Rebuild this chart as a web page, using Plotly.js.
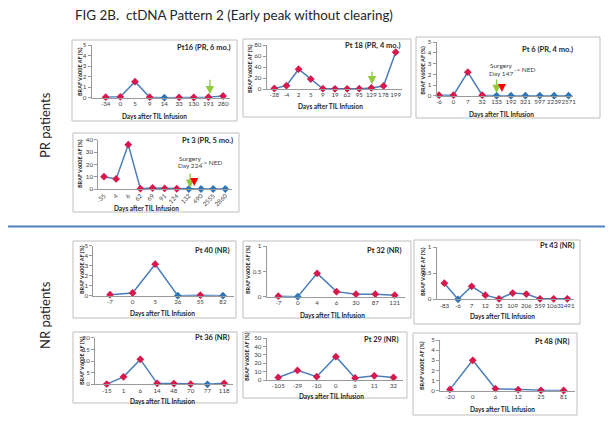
<!DOCTYPE html>
<html>
<head>
<meta charset="utf-8">
<script src="https://cdn.plot.ly/plotly-3.0.1.min.js"></script>
<style>html,body{margin:0;padding:0;background:#fff;}#chart{width:612px;height:424px;}</style>
</head>
<body>
<div id="chart"></div>
<script>
// ---- data ----
const pt16Days = ['-34','0','5','9','14','33','130','191','280'];
const pt16AF   = [0.05,0.08,1.52,0.05,0,0.03,0.02,0.05,0.16];

const pt18Days = ['-28','-4','2','5','9','19','62','95','129','178','199'];
const pt18AF   = [1,6,36,18,0.5,0.3,0.3,0.5,2,5.5,67];

const pt6Days  = ['-6','0','7','32','133','192','321','597','2239','2571'];
const pt6AF    = [0.05,0.05,2.2,0.05,0,0,0,0,0,0];

const pt3Days  = ['-35','4','6','62','69','91','124','132','490','2555','2860'];
const pt3AF    = [10,8.2,36,0.3,0.8,0.5,0.2,0,0,0,0];

const pt40Days = ['-7','0','5','26','55','82'];
const pt40AF   = [0.1,0.27,3.15,0,0.05,0];

const pt32Days = ['-7','0','4','6','30','87','121'];
const pt32AF   = [0.01,0,0.46,0.1,0.05,0.05,0.03];

const pt43Days = ['-83','-6','7','12','33','109','206','359','1063','1491'];
const pt43AF   = [0.31,0,0.25,0.08,0.01,0.12,0.1,0.01,0.01,0.01];

const pt36Days = ['-15','1','6','14','48','70','77','118'];
const pt36AF   = [0.1,3.2,10.7,0.4,0.3,0.1,0,0.4];

const pt29Days = ['-105','-29','-10','0','6','11','32'];
const pt29AF   = [3,11.5,4,28,2.4,5,3];

const pt48Days = ['-20','0','6','12','25','81'];
const pt48AF   = [0.13,3.0,0.2,0.1,0.04,0.02];

const panelTitles = ['Pt16 (PR, 6 mo.)','Pt 18 (PR, 4 mo.)','Pt 6 (PR, 4 mo.)','Pt 3 (PR, 5 mo.)',
  'Pt 40 (NR)','Pt 32 (NR)','Pt 43 (NR)','Pt 36 (NR)','Pt 29 (NR)','Pt 48 (NR)'];
const yTitle = 'BRAF V600E AF (%)';
const xTitle = 'Days after TIL Infusion';

// ---- layout geometry (pixels) ----
const W = 612, H = 424;
const panels = [
 {d:pt16Days,v:pt16AF,box:[72,40,237,121],plot:[91.7,45,230,97.7],xr:[-0.95,8.47],yr:[0,5],dt:1,tt:[233,48],xt:[154,116],yl:[80,72]},
 {d:pt18Days,v:pt18AF,box:[243,39,411,117],plot:[266.7,45,401.7,89],xr:[-0.63,10.5],yr:[0,80],dt:20,tt:[402,45.7],xt:[330,106.7],yl:[250,69]},
 {d:pt6Days,v:pt6AF,box:[416,37,600,118],plot:[436.7,42.3,573.3,95.7],xr:[-0.16,9.33],yr:[0,5],dt:1,tt:[575,49],xt:[501,114.3],yl:[422.7,70]},
 {d:pt3Days,v:pt3AF,box:[73,133,239,212],plot:[98.3,139.7,231.7,189],xr:[-0.47,10.53],yr:[0,40],dt:10,tt:[235,141],xt:[146,208],yl:[80,164],rot:true},
 {d:pt40Days,v:pt40AF,box:[73,241,236,318],plot:[93.3,245.7,234,295.7],xr:[-0.74,5.49],yr:[0,5],dt:1,tt:[232,250],xt:[162,313.3],yl:[82,270]},
 {d:pt32Days,v:pt32AF,box:[243,241,411,318],plot:[266.7,246,405,296.7],xr:[-0.6,6.53],yr:[0,1],dt:0.5,tt:[404,250],xt:[332,315],yl:[248,270]},
 {d:pt43Days,v:pt43AF,box:[414,240,580,324],plot:[436.7,247.3,574,299.3],xr:[-0.56,9.49],yr:[0,1],dt:0.5,tt:[577,245.7],xt:[502,316.7],yl:[423,272]},
 {d:pt36Days,v:pt36AF,box:[73,332,237,403],plot:[95,337.7,233.3,384.3],xr:[-0.7,7.54],yr:[0,20],dt:5,tt:[232,337.7],xt:[162,401],yl:[82,361]},
 {d:pt29Days,v:pt29AF,box:[243,332,407,398],plot:[266.7,338.3,403.3,380],xr:[-0.6,6.51],yr:[0,50],dt:10,tt:[401,339],xt:[331,396],yl:[247,357]},
 {d:pt48Days,v:pt48AF,box:[413,333,577,415],plot:[440,340,575,390.7],xr:[-0.44,5.5],yr:[0,5],dt:1,tt:[572,341.7],xt:[502,409],yl:[422,366]}
];

const FONT = 'Lato, "Open Sans", sans-serif';
const TXT = '#404040';
const px = x => x / W;
const py = y => 1 - y / H;

const data = [];
const layout = {
  width: W, height: H, margin: {l:0,r:0,t:0,b:0},
  paper_bgcolor: '#fff', plot_bgcolor: '#fff', showlegend: false,
  font: {family: FONT, color: TXT},
  shapes: [], annotations: []
};

panels.forEach((p, i) => {
  const n = i + 1;
  const xa = 'x' + (n === 1 ? '' : n), ya = 'y' + (n === 1 ? '' : n);
  data.push({
    type: 'scatter', mode: 'lines+markers', x: p.d, y: p.v,
    xaxis: xa, yaxis: ya, cliponaxis: false,
    line: {color: '#4A7EBB', width: 1.5},
    marker: {symbol: 'diamond', size: 6,
      color: p.v.map(v => v === 0 ? '#2E75B6' : '#D7194D'),
      line: {width: 0}}
  });
  layout['xaxis' + (n === 1 ? '' : n)] = {
    domain: [px(p.plot[0]), px(p.plot[2])], anchor: ya, type: 'category',
    range: p.xr, showline: true, linecolor: '#9A9A9A', linewidth: 1,
    showgrid: false, zeroline: false, ticks: '', fixedrange: true,
    tickfont: {size: 6.2, color: TXT, family: FONT},
    tickangle: p.rot ? -45 : 0
  };
  layout['yaxis' + (n === 1 ? '' : n)] = {
    domain: [py(p.plot[3]), py(p.plot[1])], anchor: xa,
    range: p.yr, dtick: p.dt, tick0: 0, showline: true, linecolor: '#9A9A9A', linewidth: 1,
    showgrid: false, zeroline: false, ticks: 'outside', ticklen: 3, tickcolor: '#9A9A9A',
    tickfont: {size: 6.2, color: TXT, family: FONT}, fixedrange: true
  };
  layout.shapes.push({type:'rect', xref:'paper', yref:'paper',
    x0: px(p.box[0]), x1: px(p.box[2]), y0: py(p.box[3]), y1: py(p.box[1]),
    line: {color: '#BFBFBF', width: 1}, fillcolor: 'rgba(0,0,0,0)', layer: 'below'});
  layout.annotations.push({xref:'paper', yref:'paper', x: px(p.tt[0]), y: py(p.tt[1]),
    xanchor:'right', yanchor:'middle', showarrow:false, text: panelTitles[i],
    font:{size:7.5, weight:'bold', color:'#262626', family: FONT}});
  layout.annotations.push({xref:'paper', yref:'paper', x: px(p.xt[0]), y: py(p.xt[1]),
    xanchor:'center', yanchor:'middle', showarrow:false, text: xTitle,
    font:{size:6.5, weight:'bold', color:'#262626', family: FONT}});
  layout.annotations.push({xref:'paper', yref:'paper', x: px(p.yl[0]), y: py(p.yl[1]),
    xanchor:'center', yanchor:'middle', showarrow:false, text: yTitle, textangle: -90,
    font:{size:5.5, weight:'bold', color:'#262626', family: FONT}});
});

// arrows (x = category serial number) and surgery notes
const GREEN = '#92C83E', RED = '#FF0000';
function arrow(ax, x, y, len, color, w, s) {
  layout.annotations.push({xref: 'x' + ax, yref: 'y' + ax, x: x, y: y, ax: 0, ay: -len,
    text: '', showarrow: true, arrowhead: 2, arrowsize: s, arrowwidth: w, arrowcolor: color});
}
arrow('', 7.1, 0.32, 16, GREEN, 1.4, 1.2);
arrow('2', 8.05, 8.5, 14, GREEN, 1.4, 1.2);
arrow('3', 4.0, 0.25, 15, GREEN, 1.4, 1.2);
arrow('3', 4.37, 0.35, 8, RED, 2, 0.8);
arrow('4', 7.1, 0.8, 16, GREEN, 1.4, 1.2);
arrow('4', 7.44, 2.4, 8, RED, 2, 0.8);

function note(x, y, t) {
  layout.annotations.push({xref:'paper', yref:'paper', x: px(x), y: py(y), xanchor:'center', yanchor:'middle',
    showarrow:false, text: t, font:{size:6.5, color:'#404040', family: FONT}});
}
note(501, 65.7, 'Surgery'); note(501, 73.3, 'Day 147'); note(525, 69.3, '-> NED');
note(190, 158, 'Surgery'); note(190, 165.7, 'Day 224'); note(212, 162, '-> NED');

// figure title, row labels, separator
layout.annotations.push({xref:'paper', yref:'paper', x: px(73), y: py(15), xanchor:'left', yanchor:'middle',
  showarrow:false, text:'FIG 2B.  ctDNA Pattern 2 (Early peak without clearing)',
  font:{size:13.4, color:'#262626', family: FONT}});
layout.annotations.push({xref:'paper', yref:'paper', x: px(45), y: py(125), xanchor:'center', yanchor:'middle',
  showarrow:false, text:'PR patients', textangle:-90, font:{size:13, color:'#262626', family: FONT}});
layout.annotations.push({xref:'paper', yref:'paper', x: px(45), y: py(315), xanchor:'center', yanchor:'middle',
  showarrow:false, text:'NR patients', textangle:-90, font:{size:13, color:'#262626', family: FONT}});
layout.shapes.push({type:'line', xref:'paper', yref:'paper', x0: px(8), x1: px(605), y0: py(226.5), y1: py(226.5),
  line:{color:'#4F81BD', width:2}});

Plotly.newPlot('chart', data, layout, {staticPlot: true, displayModeBar: false});
</script>
</body>
</html>
